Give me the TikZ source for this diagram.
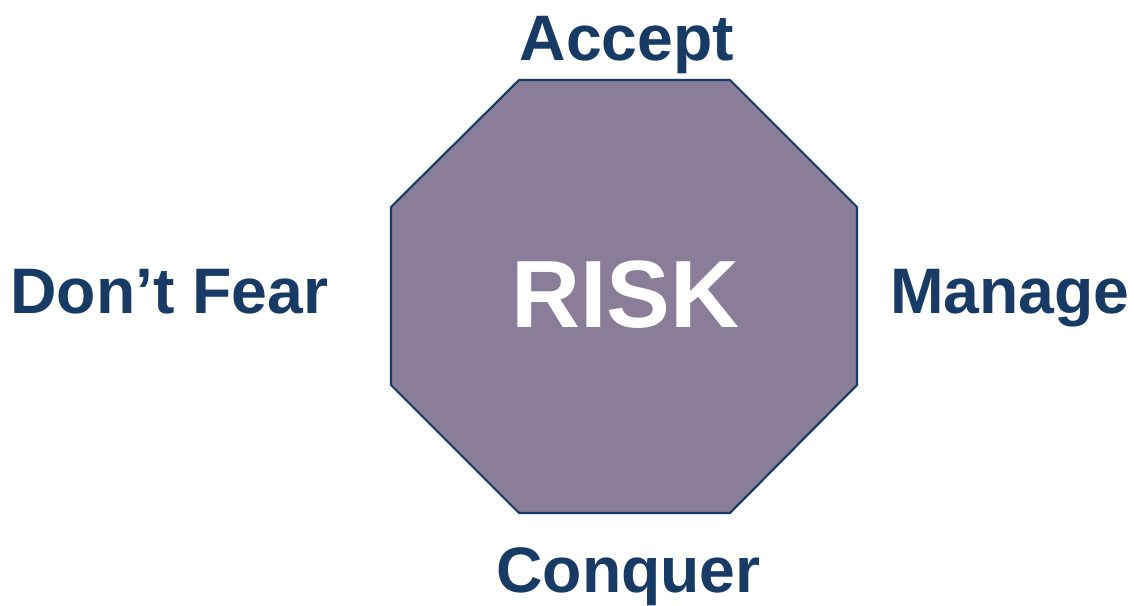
\documentclass[tikz,border=0pt]{standalone}
\usepackage{fontspec}
\setmainfont{Liberation Sans}
\usetikzlibrary{positioning}
\definecolor{riskblue}{HTML}{173B65}
\definecolor{riskpurple}{HTML}{8A7D9A}

\begin{document}
\begin{tikzpicture}
      % Styles
      \tikzset{
        word/.style={anchor=base, inner sep=0pt, text=riskblue, font=\fontsize{18.3}{22}\selectfont\bfseries},
        bigword/.style={anchor=base, inner sep=0pt, text=white, font=\fontsize{27.2}{32}\selectfont\bfseries},
      }
      \useasboundingbox (0,0) rectangle (11.34,6.05);
      % Octagon
      \draw[riskblue, line width=0.6pt, fill=riskpurple]
        (5.19,5.25) -- (7.30,5.25) -- (8.57,3.98) -- (8.57,2.20)
        -- (7.30,0.92) -- (5.19,0.92) -- (3.91,2.20) -- (3.91,3.98) -- cycle;
      % Labels
      \node (risk) [bigword] at (6.255,2.78) {RISK};
      \node (accept) [word] at (6.27,5.45) {Accept};
      \node (fear) [word] at (1.695,2.92) {Don’t Fear};
      \node (manage) [word] at (10.10,2.92) {Manage};
      \node (conquer) [word] at (6.285,0.13) {Conquer};
    \end{tikzpicture}
\end{document}
